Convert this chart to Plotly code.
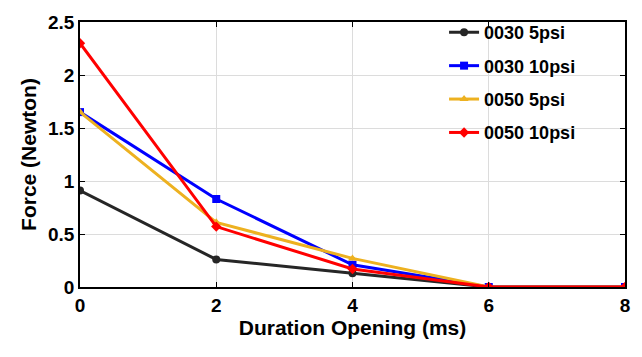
import plotly.graph_objects as go

x_ms = [0, 2, 4, 6, 8]
names = ["0030 5psi", "0030 10psi", "0050 5psi", "0050 10psi"]
f_0030_5 = [0.91, 0.26, 0.13, 0.0, 0.0]
f_0030_10 = [1.65, 0.83, 0.21, 0.0, 0.0]
f_0050_5 = [1.65, 0.61, 0.27, 0.0, 0.0]
f_0050_10 = [2.30, 0.57, 0.17, 0.0, 0.0]
series = [f_0030_5, f_0030_10, f_0050_5, f_0050_10]
colors = ["#262626", "#0000FF", "#EDB120", "#FF0000"]
symbols = ["circle", "square", "triangle-up", "diamond"]

FONT = "Liberation Sans, Arial, sans-serif"
fig = go.Figure()
for i, (n, ys) in enumerate(zip(names, series)):
    fig.add_trace(go.Scatter(
        x=x_ms, y=ys, name=n, mode="lines+markers", legendgroup=str(i),
        line=dict(color=colors[i], width=3),
        marker=dict(symbol=symbols[i], size=8, color=colors[i]),
    ))

axis_common = dict(
    showline=True, linecolor="black", linewidth=1.5, mirror="ticks",
    ticks="inside", ticklen=5, tickcolor="black",
    showgrid=True, gridcolor="#DCDCDC", gridwidth=1, zeroline=False,
    tickfont=dict(family=FONT, size=19, color="black", weight="bold"),
)
fig.update_xaxes(range=[0, 8], tickvals=[0, 2, 4, 6, 8],
                 title=dict(text="Duration Opening (ms)", standoff=4,
                            font=dict(family=FONT, size=21, color="black", weight="bold")),
                 **axis_common)
fig.update_yaxes(range=[0, 2.5], tickvals=[0, 0.5, 1, 1.5, 2, 2.5],
                 ticktext=["0", "0.5", "1", "1.5", "2", "2.5"],
                 title=dict(text="Force (Newton)", standoff=6,
                            font=dict(family=FONT, size=21, color="black", weight="bold")),
                 **axis_common)
fig.update_layout(
    width=642, height=357,
    margin=dict(l=80, r=16, t=15, b=70),
    paper_bgcolor="white", plot_bgcolor="white",
    showlegend=True,
    legend=dict(x=0.668, y=1.03, xanchor="left", yanchor="top",
                bgcolor="rgba(0,0,0,0)", borderwidth=0,
                tracegroupgap=7,
                font=dict(family=FONT, size=18, color="black", weight="bold")),
)
fig.write_html("out.html")
